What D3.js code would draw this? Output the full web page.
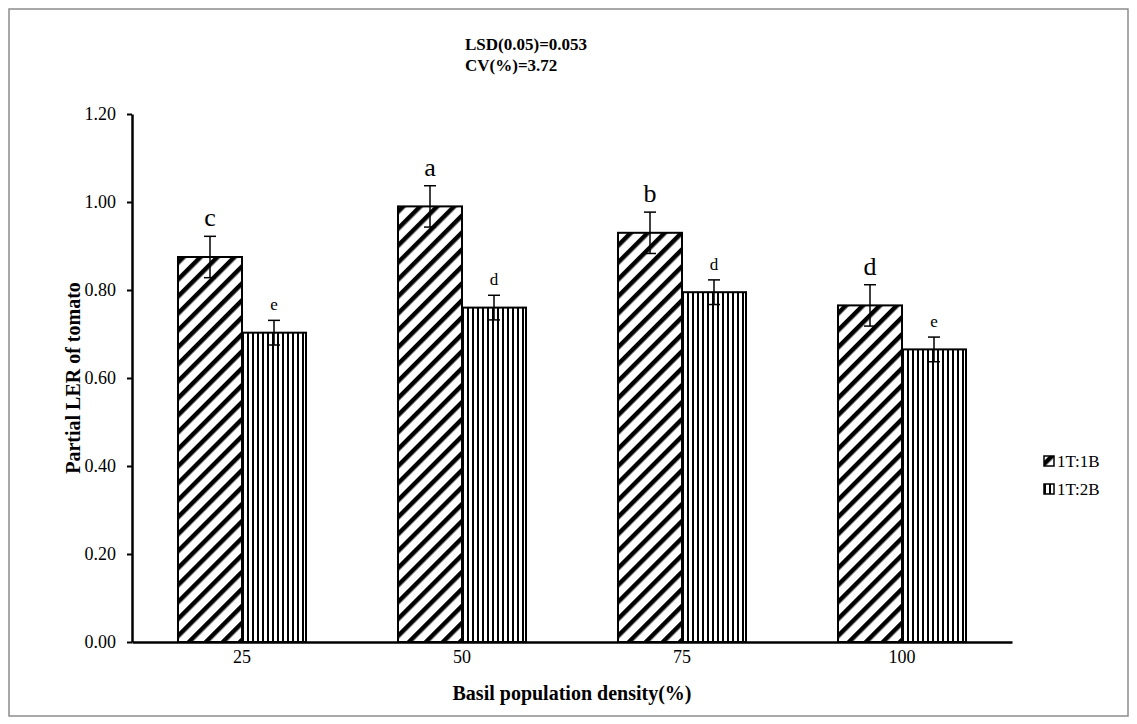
<!DOCTYPE html>
<html lang="en">
<head>
<meta charset="utf-8">
<title>Partial LER of tomato</title>
<script src="https://d3js.org/d3.v7.min.js"></script>
<style>
  body { margin: 0; background: #fff; }
  text { font-family: "Liberation Serif", "Times New Roman", serif; fill: #000; }
</style>
</head>
<body>
<script>
// data
var categories = ["25", "50", "75", "100"];
var seriesNames = ["1T:1B", "1T:2B"];
var ler11 = [0.875, 0.99, 0.93, 0.765];
var ler12 = [0.703, 0.76, 0.795, 0.665];
var err11 = [0.047, 0.047, 0.047, 0.047];
var err12 = [0.028, 0.028, 0.028, 0.028];
var letters11 = ["c", "a", "b", "d"];
var letters12 = ["e", "d", "d", "e"];
var yTicks = [0, 0.2, 0.4, 0.6, 0.8, 1.0, 1.2];

var w = 1137, h = 724;
var mLeft = 132, mRight = 1012, mTop = 114, mBottom = 642;

var svg = d3.select("body").append("svg").attr("width", w).attr("height", h);

// patterns
var defs = svg.append("defs");
var diag = defs.append("pattern").attr("id", "diag")
  .attr("patternUnits", "userSpaceOnUse").attr("width", 12).attr("height", 12)
  .attr("patternTransform", "rotate(45)");
diag.append("rect").attr("width", 12).attr("height", 12).attr("fill", "#fff");
diag.append("rect").attr("x", 0).attr("width", 4.5).attr("height", 12).attr("fill", "#000");

var vert = defs.append("pattern").attr("id", "vert")
  .attr("patternUnits", "userSpaceOnUse").attr("width", 5).attr("height", 5);
vert.append("rect").attr("width", 5).attr("height", 5).attr("fill", "#fff");
vert.append("rect").attr("x", 0).attr("width", 2).attr("height", 5).attr("fill", "#000");

var fills = ["url(#diag)", "url(#vert)"];

// outer border
svg.append("rect").attr("x", 9).attr("y", 9).attr("width", 1119).attr("height", 707)
  .attr("fill", "none").attr("stroke", "#8c8c8c").attr("stroke-width", 1.5);

// scales
var x0 = d3.scaleBand().domain(categories).range([mLeft, mRight]);
var x1 = d3.scaleBand().domain(seriesNames).range([x0.bandwidth() / 2 - 64, x0.bandwidth() / 2 + 64]);
var y = d3.scaleLinear().domain([0, 1.2]).range([mBottom, mTop]);

var rows = categories.map(function(c, i) {
  return {
    cat: c,
    vals: [
      {s: seriesNames[0], v: ler11[i], e: err11[i], l: letters11[i], fs: 26},
      {s: seriesNames[1], v: ler12[i], e: err12[i], l: letters12[i], fs: 17}
    ]
  };
});

var groups = svg.selectAll("g.cat").data(rows).enter().append("g")
  .attr("class", "cat")
  .attr("transform", function(d) { return "translate(" + x0(d.cat) + ",0)"; });

groups.selectAll("rect").data(function(d) { return d.vals; }).enter().append("rect")
  .attr("x", function(d) { return x1(d.s); })
  .attr("y", function(d) { return y(d.v); })
  .attr("width", x1.bandwidth())
  .attr("height", function(d) { return y(0) - y(d.v); })
  .attr("fill", function(d, i) { return fills[i]; })
  .attr("stroke", "#000").attr("stroke-width", 2);

// error bars
var eb = groups.selectAll("g.err").data(function(d) { return d.vals; }).enter().append("g").attr("class", "err");
eb.append("line")
  .attr("x1", function(d) { return x1(d.s) + x1.bandwidth() / 2; })
  .attr("x2", function(d) { return x1(d.s) + x1.bandwidth() / 2; })
  .attr("y1", function(d) { return y(d.v + d.e); })
  .attr("y2", function(d) { return y(d.v - d.e); })
  .attr("stroke", "#000").attr("stroke-width", 1.5);
eb.selectAll("line.cap").data(function(d) { return [d.v + d.e, d.v - d.e].map(function(v) { return {s: d.s, v: v}; }); })
  .enter().append("line").attr("class", "cap")
  .attr("x1", function(d) { return x1(d.s) + x1.bandwidth() / 2 - 6; })
  .attr("x2", function(d) { return x1(d.s) + x1.bandwidth() / 2 + 6; })
  .attr("y1", function(d) { return y(d.v); })
  .attr("y2", function(d) { return y(d.v); })
  .attr("stroke", "#000").attr("stroke-width", 1.5);

// letters
groups.selectAll("text.lab").data(function(d) { return d.vals; }).enter().append("text")
  .attr("class", "lab")
  .attr("x", function(d) { return x1(d.s) + x1.bandwidth() / 2; })
  .attr("y", function(d) { return y(d.v + d.e) - 10; })
  .attr("text-anchor", "middle")
  .style("font-size", function(d) { return d.fs + "px"; })
  .text(function(d) { return d.l; });

// axes
var yAxis = d3.axisLeft(y).tickValues(yTicks).tickFormat(d3.format(".2f")).tickSize(5).tickSizeOuter(0);
var gy = svg.append("g").attr("transform", "translate(" + mLeft + ",0)").call(yAxis);
gy.select(".domain").attr("stroke-width", 2.5);
gy.selectAll(".tick line").attr("stroke-width", 2);
gy.selectAll(".tick text").style("font-family", "Liberation Serif").style("font-size", "18px").attr("x", -16);

var xAxis = d3.axisBottom(x0).tickSize(0).tickSizeOuter(0);
var gx = svg.append("g").attr("transform", "translate(0," + mBottom + ")").call(xAxis);
gx.select(".domain").attr("stroke-width", 2.5);
gx.selectAll(".tick text").style("font-family", "Liberation Serif").style("font-size", "18px").attr("dy", "1em");

// titles
svg.append("text").attr("x", 80).attr("y", (mTop + mBottom) / 2)
  .attr("transform", "rotate(-90,80," + (mTop + mBottom) / 2 + ")")
  .attr("text-anchor", "middle").style("font-size", "20px").style("font-weight", "bold")
  .text("Partial LER of tomato");
svg.append("text").attr("x", (mLeft + mRight) / 2).attr("y", 700)
  .attr("text-anchor", "middle").style("font-size", "20px").style("font-weight", "bold")
  .text("Basil population density(%)");

var ann = svg.append("text").attr("x", 465).attr("y", 50).style("font-size", "17px").style("font-weight", "bold");
ann.append("tspan").attr("x", 465).text("LSD(0.05)=0.053");
ann.append("tspan").attr("x", 465).attr("dy", 21).text("CV(%)=3.72");

// legend
var leg = svg.selectAll("g.leg").data(seriesNames).enter().append("g").attr("class", "leg")
  .attr("transform", function(d, i) { return "translate(1044," + (461 + i * 28) + ")"; });
leg.append("rect").attr("x", 0).attr("y", -5).attr("width", 10).attr("height", 10)
  .attr("fill", function(d, i) { return fills[i]; }).attr("stroke", "#000").attr("stroke-width", 1.5);
leg.append("text").attr("x", 13).attr("y", 6).style("font-size", "17px").text(function(d) { return d; });
</script>
</body>
</html>
